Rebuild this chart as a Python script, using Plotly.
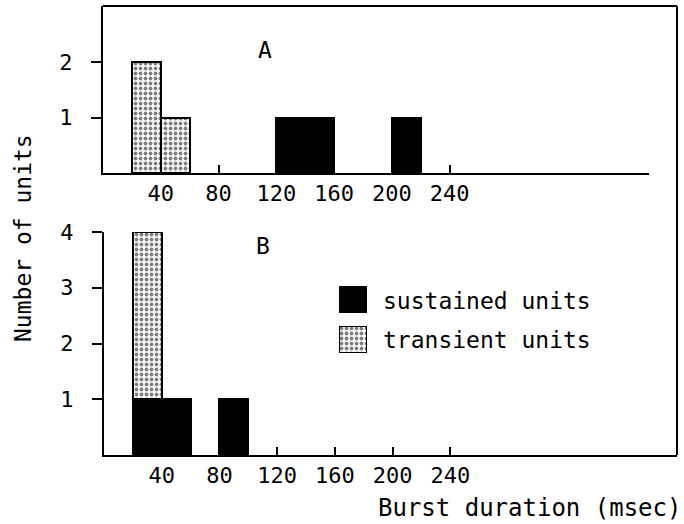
import plotly.graph_objects as go

W, H = 684, 524

# ---- data (bin centres in msec, bin width 20) ----
bin_width = 20
a_transient_x = [30, 50]
a_transient_n = [2, 1]
a_sustained_x = [130, 150, 210]
a_sustained_n = [1, 1, 1]

b_sustained_x = [30, 50, 90]
b_sustained_n = [1, 1, 1]
b_transient_x = [30]
b_transient_n = [3]

x_ticks = [40, 80, 120, 160, 200, 240]
a_y_ticks = [1, 2]
b_y_ticks = [1, 2, 3, 4]

FONT = "DejaVu Sans Mono"
STIPPLE = dict(shape=".", fgcolor="black", bgcolor="white", size=5, solidity=0.45)


def px(x):
    return x / W


def py(y):
    return 1 - y / H


fig = go.Figure()

# Panel A
fig.add_trace(go.Bar(x=a_sustained_x, y=a_sustained_n, width=bin_width,
                     marker=dict(color="black", line=dict(color="black", width=2)),
                     xaxis="x", yaxis="y", showlegend=False))
fig.add_trace(go.Bar(x=a_transient_x, y=a_transient_n, width=bin_width,
                     marker=dict(color="white", pattern=STIPPLE, line=dict(color="black", width=2)),
                     xaxis="x", yaxis="y", showlegend=False))
# Panel B (stacked)
fig.add_trace(go.Bar(x=b_sustained_x, y=b_sustained_n, width=bin_width,
                     marker=dict(color="black", line=dict(color="black", width=2)),
                     xaxis="x2", yaxis="y2", showlegend=False))
fig.add_trace(go.Bar(x=b_transient_x, y=b_transient_n, width=bin_width,
                     marker=dict(color="white", pattern=STIPPLE, line=dict(color="black", width=2)),
                     xaxis="x2", yaxis="y2", showlegend=False))

# Legend swatches (small auxiliary axes)
fig.add_trace(go.Bar(x=[0], y=[1], width=1,
                     marker=dict(color="black", line=dict(color="black", width=2)),
                     xaxis="x3", yaxis="y3", showlegend=False, hoverinfo="skip"))
fig.add_trace(go.Bar(x=[0], y=[1], width=1,
                     marker=dict(color="white", pattern=STIPPLE, line=dict(color="black", width=2)),
                     xaxis="x4", yaxis="y4", showlegend=False, hoverinfo="skip"))

xcommon = dict(tickvals=x_ticks, ticks="inside", ticklen=8, tickwidth=1.5, tickcolor="black",
               showline=True, linewidth=2, linecolor="black", showgrid=False, zeroline=False,
               tickfont=dict(family=FONT, size=22, color="black"), layer="below traces",
               ticklabelstandoff=0, automargin=False)
ycommon = dict(ticks="outside", ticklen=10, tickwidth=1.5, tickcolor="black",
               showline=True, linewidth=2, linecolor="black", showgrid=False, zeroline=False,
               tickfont=dict(family=FONT, size=22, color="black"), ticklabelstandoff=14,
               automargin=False)

aux = dict(visible=False, showgrid=False, zeroline=False, fixedrange=True)

fig.update_layout(
    width=W, height=H,
    margin=dict(l=0, r=0, t=0, b=0, pad=0, autoexpand=False),
    paper_bgcolor="white", plot_bgcolor="white",
    barmode="stack", bargap=0,
    xaxis=dict(domain=[px(103), px(649)], range=[0, 378], anchor="y", **xcommon),
    yaxis=dict(domain=[py(173), py(6)], range=[0, 3.02], anchor="x", tickvals=a_y_ticks, **ycommon),
    xaxis2=dict(domain=[px(104), px(677)], range=[0, 397], anchor="y2", **xcommon),
    yaxis2=dict(domain=[py(455), py(232)], range=[0, 4], anchor="x2", tickvals=b_y_ticks, **ycommon),
    xaxis3=dict(domain=[px(339), px(367)], range=[-0.5, 0.5], anchor="y3", **aux),
    yaxis3=dict(domain=[py(313), py(286)], range=[0, 1], anchor="x3", **aux),
    xaxis4=dict(domain=[px(339), px(367)], range=[-0.5, 0.5], anchor="y4", **aux),
    yaxis4=dict(domain=[py(353), py(326)], range=[0, 1], anchor="x4", **aux),
    font=dict(family=FONT, size=22, color="black"),
)

# Frame (top and right borders)
fig.add_shape(type="line", xref="paper", yref="paper",
              x0=px(103), y0=py(6), x1=px(677), y1=py(6), line=dict(color="black", width=2))
fig.add_shape(type="line", xref="paper", yref="paper",
              x0=px(677), y0=py(6), x1=px(677), y1=py(455), line=dict(color="black", width=2))


def ann(text, x, y, size=23, **kw):
    fig.add_annotation(text=text, x=px(x), y=py(y), xref="paper", yref="paper", showarrow=False,
                       font=dict(family=FONT, size=size, color="black"), **kw)


ann("A", 265, 50, xanchor="center", yanchor="middle")
ann("B", 263, 246, xanchor="center", yanchor="middle")
ann("sustained units", 381, 301, xanchor="left", yanchor="middle")
ann("transient units", 381, 340, xanchor="left", yanchor="middle")
ann("Burst duration (msec)", 683, 508, size=24, xanchor="right", yanchor="middle")
ann("Number of units", 23, 238, xanchor="center", yanchor="middle", textangle=-90)

fig.write_html("out.html", config={"displayModeBar": False},
               post_script="document.body.style.margin='0';document.body.style.overflow='hidden';")
